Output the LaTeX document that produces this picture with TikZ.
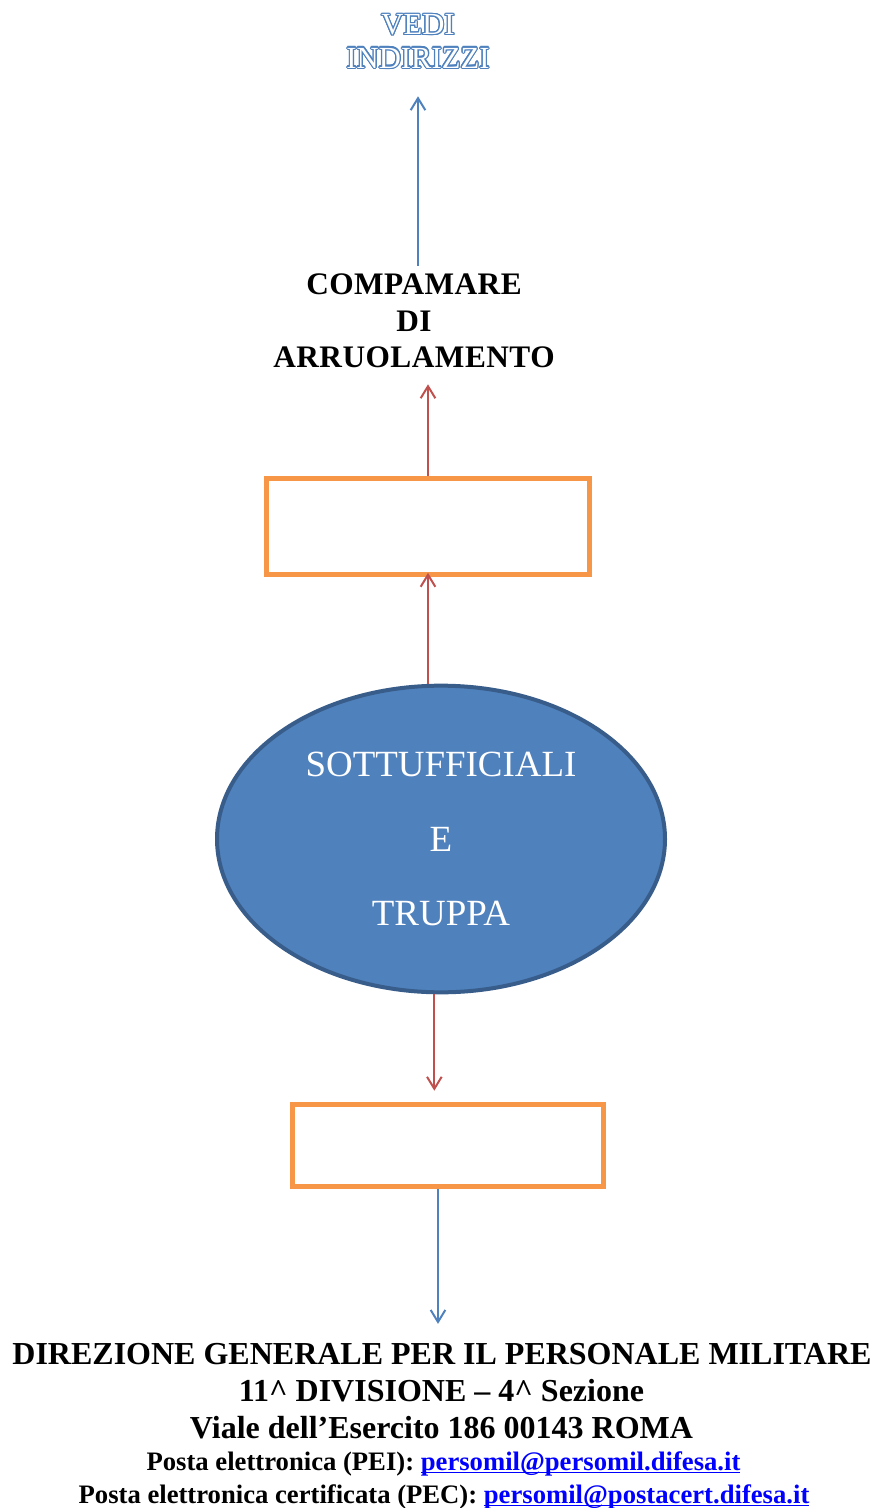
\documentclass[tikz,border=0pt]{standalone}
\usepackage{fontspec}
\setmainfont{Liberation Serif}
\usepackage{contour}
\usetikzlibrary{arrows.meta, positioning, shapes.geometric}
\definecolor{accentblue}{HTML}{4F81BD}
\definecolor{ellborder}{HTML}{385D8A}
\definecolor{accentred}{HTML}{C0504D}
\definecolor{boxorange}{HTML}{F79646}
\definecolor{linkblue}{HTML}{0000FF}
\contourlength{0.9pt}
\newcommand{\hollow}[1]{\contour{accentblue}{\textcolor{white}{#1}}}
\newsavebox{\mailbox}
\newcommand{\mailto}[1]{\textcolor{linkblue}{\sbox{\mailbox}{#1}\rlap{\rule[-2.6pt]{\wd\mailbox}{1.2pt}}\usebox{\mailbox}}}

\begin{document}
\begin{tikzpicture}[x=0.75pt, y=-0.75pt, every node/.style={align=center, inner sep=0pt}]
    \tikzset{box/.style={draw=boxorange, line width=3.5pt, minimum width=242pt, minimum height=72pt},
      bluearr/.style={draw=accentblue, line width=1.5pt, -{Straight Barb[length=9pt, width=11pt]}},
      redarr/.style={draw=accentred, line width=1.5pt, -{Straight Barb[length=9pt, width=11pt]}},
      bigline/.style={anchor=base, font=\bfseries\fontsize{24}{24}\selectfont},
      smallline/.style={anchor=base, font=\bfseries\fontsize{20}{20}\selectfont}}
    \useasboundingbox (0,0) rectangle (876,1508);
    \node[font=\fontsize{23}{25}\selectfont] (vedi) at (418,42) {\hollow{VEDI}\\\hollow{INDIRIZZI}};
    \node[font=\bfseries\fontsize{23.5}{27.4}\selectfont\addfontfeature{LetterSpace=1.5}] (comp) at (414,321) {COMPAMARE\\DI\\ARRUOLAMENTO};
    \node[box] (box1) at (428,526.5) {};
    \node[ellipse, draw=ellborder, fill=accentblue, line width=3pt, minimum width=336pt, minimum height=230pt,
      text=white, font=\fontsize{27.7}{56}\selectfont] (ell) at (441,839) {SOTTUFFICIALI\\E\\TRUPPA};
    \node[box, minimum width=233pt, minimum height=61.5pt] (box2) at (448,1145.5) {};
    % indirizzo in fondo
    \node[bigline] (d1) at (442,1364) {DIREZIONE GENERALE PER IL PERSONALE MILITARE};
    \node[bigline] (d2) at (441.5,1401) {11\textasciicircum{} DIVISIONE – 4\textasciicircum{} Sezione};
    \node[bigline] (d3) at (441.5,1438) {Viale dell’Esercito 186 00143 ROMA};
    \node[smallline] (d4) at (443.5,1470) {Posta elettronica (PEI): \mailto{persomil@persomil.difesa.it}};
    \node[smallline] (d5) at (444,1503) {Posta elettronica certificata (PEC): \mailto{persomil@postacert.difesa.it}};
    \draw[bluearr, shorten <=6pt, shorten >=20pt] (comp.north -| vedi) -- (vedi.south);
    \draw[redarr, shorten >=12pt] (box1.north) -- (comp.south -| box1.north);
    \draw[redarr, shorten >=-3pt] (ell.north -| box1.south) -- (box1.south);
    \draw[redarr, shorten >=8.6pt] ([xshift=-5pt]ell.south) -- ([xshift=-5pt]ell.south |- box2.north);
    \draw[bluearr, shorten >=14pt] ([xshift=-7.5pt]box2.south) -- ([xshift=-7.5pt]box2.south |- d1.north);
\end{tikzpicture}
\end{document}
